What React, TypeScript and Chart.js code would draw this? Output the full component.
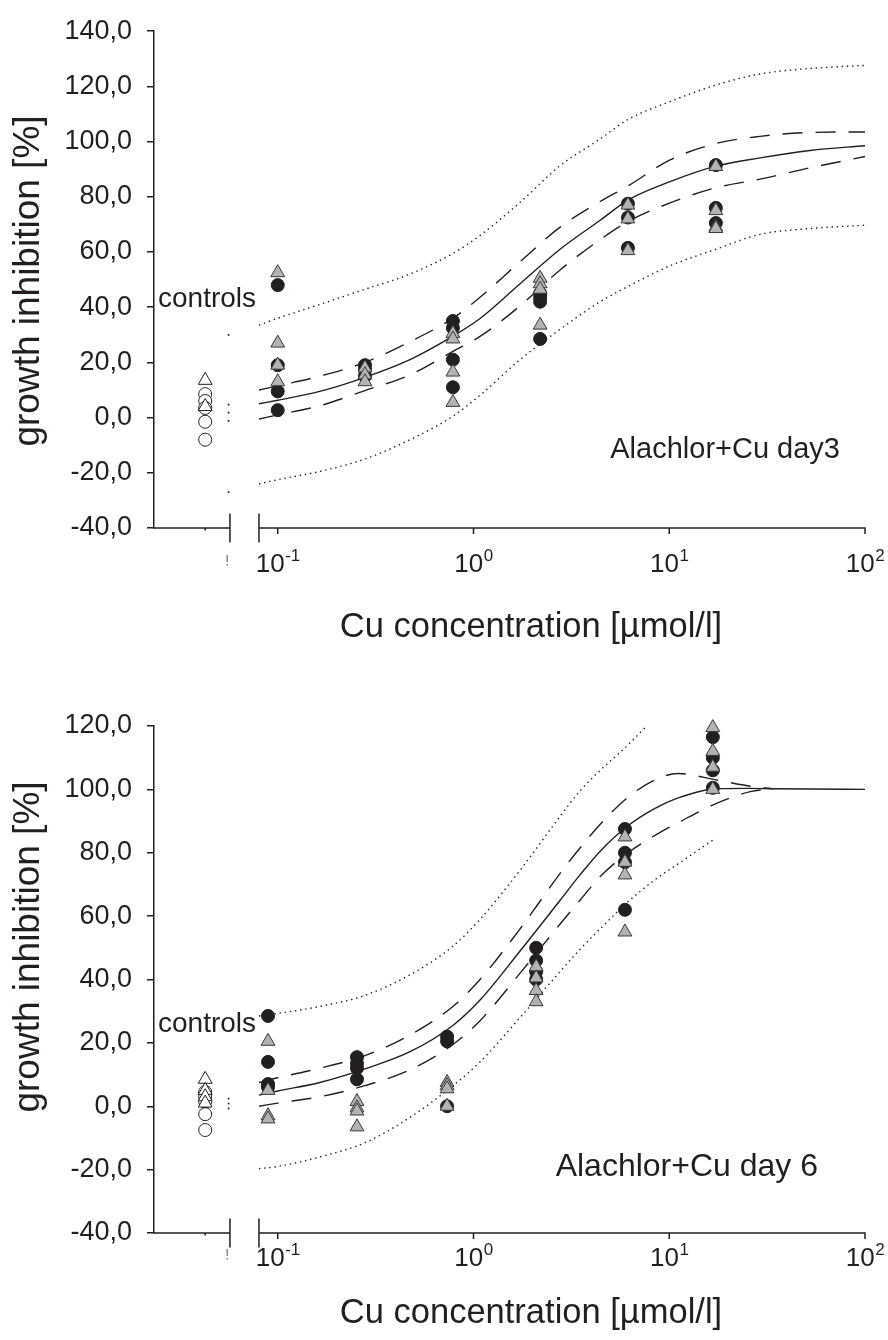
import React, { useEffect, useRef } from 'react';
import { Chart, registerables } from 'chart.js';

Chart.register(...registerables);

const FONT = "'Liberation Sans', Arial, Helvetica, sans-serif";
const INK = '#231f20';
const GRAY = '#b3b3b3';

// ---------- shared x axis (log scale with a broken "controls" section) ----------
const X_MIN = 0.02333;
const X_MAX = 100;
const X_DECADES = [-1, 0, 1, 2];
const CONTROL_X = 0.0426;
const STUB_X = 0.0561;
const BREAK_LEFT_X = 0.057;
const BREAK_RIGHT_X = 0.0802;
const X_TITLE = 'Cu concentration [µmol/l]';
const Y_TITLE = 'growth inhibition [%]';

// ---------- day 3 ----------
const DAY3_CTRL_OPEN_CIRCLES = [8.5, 6, 3.5, -1.5, -8];
const DAY3_CTRL_OPEN_TRIANGLES = [13.5, 4];
const DAY3_DOSES = [0.1, 0.279, 0.785, 2.19, 6.15, 17.3];
const DAY3_FILLED_CIRCLES = [
  [48, 19, 9.5, 2.7],
  [19, 17.5, 15],
  [35, 32.5, 21, 11],
  [45, 43.5, 42, 28.5],
  [77.5, 72.5, 61.5],
  [91.5, 76, 70.5],
];
const DAY3_GRAY_TRIANGLES = [
  [52.5, 27, 19, 13],
  [18, 15.5, 13],
  [30.5, 28.5, 16.5, 5.5],
  [50.5, 48.5, 46.5, 33.5],
  [77, 72, 60.5],
  [91, 75, 69, 68.5],
];
const DAY3_CURVE_X = [0.0802, 0.1, 0.164, 0.279, 0.474, 0.785, 1.08, 1.73, 2.77, 4.44, 6.15, 10.1, 17.3, 29.1, 52.4, 100];
const DAY3_FIT = [5, 6.3, 9.5, 14.6, 21, 29.5, 35.9, 48.5, 61, 71.5, 78.8, 85.5, 91.1, 94.1, 96.8, 98.5];
const DAY3_CI_UPPER = [10, 11.5, 15, 20, 27.5, 36, 43.6, 56.5, 69, 78.3, 83.9, 93.4, 99.3, 101.9, 103.3, 103.5];
const DAY3_CI_LOWER = [-0.5, 1, 4.3, 9.8, 15.5, 24, 29.4, 40.5, 53.5, 64.5, 71, 77.8, 83.3, 86.4, 90.5, 94.6];
const DAY3_PI_UPPER = [33.5, 36, 41, 46.5, 52, 59.5, 66, 78, 91.3, 101, 108, 114.5, 120.5, 124.5, 126.5, 127.6];
const DAY3_PI_LOWER = [-24, -22.5, -19.5, -15, -8, 0.5, 8.1, 21, 32, 42, 47.5, 55, 61, 66.4, 68.5, 69.7];
const DAY3_STUBS = [30, 4.7, 1.8, -1.2, -27];

// ---------- day 6 ----------
const DAY6_CTRL_OPEN_CIRCLES = [4.5, 3, 1.5, -2.5, -7.5];
const DAY6_CTRL_OPEN_TRIANGLES = [8.5, 5, 3, 1];
const DAY6_DOSES = [0.0892, 0.254, 0.733, 2.09, 5.94, 16.7];
const DAY6_FILLED_CIRCLES = [
  [28.5, 14, 7, 6],
  [15.5, 13.5, 12, 8.5],
  [22, 20.5, 0],
  [50, 46, 42.5, 40],
  [87.5, 80, 77, 62],
  [116.5, 110, 106, 100.5],
];
const DAY6_GRAY_TRIANGLES = [
  [20.5, 5, -3, -4],
  [1.5, -0.5, -1.5, -6.5],
  [7.5, 6.5, 5.5, 0],
  [44, 40.5, 36.5, 33],
  [85, 77, 73, 55],
  [119.5, 112, 107, 100],
];
const DAY6_CURVE_X = [0.0802, 0.1, 0.164, 0.279, 0.474, 0.785, 1.08, 1.73, 2.77, 3.5, 4.44, 6.15, 8.46, 11.1, 17.3, 25.9, 33.9, 52.4, 100];
const DAY6_FIT = [3.5, 4.8, 7.5, 11.8, 17.2, 25.5, 33.5, 49, 65, 73, 80.5, 88.5, 94, 97.3, 100.2, 100.3, 100.2, 100.1, 100];
const DAY6_CI_X = [0.0802, 0.1, 0.164, 0.279, 0.474, 0.785, 1.08, 1.73, 2.77, 3.5, 4.44, 6.15, 8.46, 11.1, 17.3, 25.9, 33.9];
const DAY6_CI_UPPER = [7.5, 9, 12, 16, 22.5, 31.5, 40, 56, 73.5, 81.5, 89, 97.5, 103, 105, 103, 101, 100.2];
const DAY6_CI_LOWER = [0, 1, 3, 6.5, 11.5, 19.5, 27, 42, 57.5, 65, 72.5, 80, 85.5, 89.5, 95.5, 99.3, 100.2];
const DAY6_PI_UPPER_X = [0.0802, 0.1, 0.164, 0.279, 0.474, 0.785, 1.08, 1.73, 2.77, 3.5, 4.44, 6.15, 7.52];
const DAY6_PI_UPPER = [28.5, 29.3, 31.5, 35, 41.5, 50.5, 59, 74.5, 91.5, 99.5, 106, 114, 119.5];
const DAY6_PI_LOWER_X = [0.0802, 0.1, 0.164, 0.279, 0.474, 0.785, 1.08, 1.73, 2.77, 3.5, 4.44, 6.15, 8.46, 11.1, 16.7];
const DAY6_PI_LOWER = [-19.7, -19, -16, -11.5, -3.5, 6.5, 14, 28, 42.5, 49.5, 56, 64.5, 71.5, 76.5, 84];
const DAY6_STUBS = [2.4, 0.85, -0.7];

type Spec = {
  yMax: number;
  padTop: number;
  xAxisH: number;
  doses: number[];
  circles: number[][];
  triangles: number[][];
  ctrlCircles: number[];
  ctrlTriangles: number[];
  stubs: number[];
  fitX: number[];
  fit: number[];
  ciX: number[];
  ciUp: number[];
  ciLo: number[];
  piUpX: number[];
  piUp: number[];
  piLoX: number[];
  piLo: number[];
  label: string;
  labelFont: number;
  labelRight: number;
  labelBase: number;
  ctrlFont: number;
  ctrlBase: number;
  tickLabelBase: number;
  titleCy: number;
  yTitleCy: number;
};

const DAY3: Spec = {
  yMax: 140, padTop: 19, xAxisH: 142,
  doses: DAY3_DOSES, circles: DAY3_FILLED_CIRCLES, triangles: DAY3_GRAY_TRIANGLES,
  ctrlCircles: DAY3_CTRL_OPEN_CIRCLES, ctrlTriangles: DAY3_CTRL_OPEN_TRIANGLES, stubs: DAY3_STUBS,
  fitX: DAY3_CURVE_X, fit: DAY3_FIT, ciX: DAY3_CURVE_X, ciUp: DAY3_CI_UPPER, ciLo: DAY3_CI_LOWER,
  piUpX: DAY3_CURVE_X, piUp: DAY3_PI_UPPER, piLoX: DAY3_CURVE_X, piLo: DAY3_PI_LOWER,
  label: 'Alachlor+Cu day3', labelFont: 29, labelRight: 840, labelBase: 458,
  ctrlFont: 28, ctrlBase: 307, tickLabelBase: 44, titleCy: 99, yTitleCy: 281,
};

const DAY6: Spec = {
  yMax: 120, padTop: 56, xAxisH: 107,
  doses: DAY6_DOSES, circles: DAY6_FILLED_CIRCLES, triangles: DAY6_GRAY_TRIANGLES,
  ctrlCircles: DAY6_CTRL_OPEN_CIRCLES, ctrlTriangles: DAY6_CTRL_OPEN_TRIANGLES, stubs: DAY6_STUBS,
  fitX: DAY6_CURVE_X, fit: DAY6_FIT, ciX: DAY6_CI_X, ciUp: DAY6_CI_UPPER, ciLo: DAY6_CI_LOWER,
  piUpX: DAY6_PI_UPPER_X, piUp: DAY6_PI_UPPER, piLoX: DAY6_PI_LOWER_X, piLo: DAY6_PI_LOWER,
  label: 'Alachlor+Cu day 6', labelFont: 32, labelRight: 818, labelBase: 506,
  ctrlFont: 28, ctrlBase: 362, tickLabelBase: 33, titleCy: 80, yTitleCy: 277,
};

function overlayPlugin(p: Spec) {
  return {
    id: 'overlay',
    afterDraw(chart: any) {
      const { ctx, chartArea: a } = chart;
      const x = chart.scales.x;
      const y0 = a.bottom;
      ctx.save();
      ctx.strokeStyle = INK;
      ctx.lineWidth = 1.5;
      const bl = x.getPixelForValue(BREAK_LEFT_X);
      const br = x.getPixelForValue(BREAK_RIGHT_X);
      ctx.beginPath();
      ctx.moveTo(a.left - 0.75, y0);
      ctx.lineTo(bl, y0);
      ctx.moveTo(br, y0);
      ctx.lineTo(a.right + 0.75, y0);
      ctx.moveTo(bl, y0 - 14.5);
      ctx.lineTo(bl, y0 + 14.5);
      ctx.moveTo(br, y0 - 14.5);
      ctx.lineTo(br, y0 + 14.5);
      X_DECADES.forEach((k) => {
        const px = x.getPixelForValue(Math.pow(10, k));
        ctx.moveTo(px, y0);
        ctx.lineTo(px, y0 + 6);
      });
      const cx = x.getPixelForValue(CONTROL_X);
      ctx.moveTo(cx, y0);
      ctx.lineTo(cx, y0 + 2.5);
      ctx.stroke();

      // clipped label fragment in the controls section
      ctx.fillStyle = '#8a8a8a';
      ctx.fillRect(bl - 3.5, y0 + p.tickLabelBase - 17, 1.5, 7);
      ctx.fillRect(bl - 3.5, y0 + p.tickLabelBase - 8, 1.5, 1.5);

      ctx.fillStyle = INK;
      ctx.textBaseline = 'alphabetic';
      ctx.textAlign = 'left';
      X_DECADES.forEach((k) => {
        const px = x.getPixelForValue(Math.pow(10, k));
        ctx.font = `26px ${FONT}`;
        const w1 = ctx.measureText('10').width;
        ctx.font = `17px ${FONT}`;
        const sup = String(k);
        const w2 = ctx.measureText(sup).width;
        const start = px - (w1 + w2) / 2;
        ctx.font = `26px ${FONT}`;
        ctx.fillText('10', start, y0 + p.tickLabelBase);
        ctx.font = `17px ${FONT}`;
        ctx.fillText(sup, start + w1 + 0.5, y0 + p.tickLabelBase - 11);
      });

      ctx.font = `34.5px ${FONT}`;
      ctx.textAlign = 'center';
      ctx.textBaseline = 'middle';
      ctx.fillText(X_TITLE, 531, y0 + p.titleCy);

      ctx.save();
      ctx.translate(29, p.yTitleCy);
      ctx.rotate(-Math.PI / 2);
      ctx.font = `37px ${FONT}`;
      ctx.fillText(Y_TITLE, 0, 0);
      ctx.restore();

      ctx.textBaseline = 'alphabetic';
      ctx.textAlign = 'left';
      ctx.font = `${p.ctrlFont}px ${FONT}`;
      ctx.fillText('controls', 158, p.ctrlBase);
      ctx.textAlign = 'right';
      ctx.font = `${p.labelFont}px ${FONT}`;
      ctx.fillText(p.label, p.labelRight, p.labelBase);
      ctx.restore();
    },
  };
}

function buildConfig(p: Spec): any {
  const markers = (doses: number[], rows: number[][]) =>
    doses.flatMap((d, i) => rows[i].map((v) => ({ x: d, y: v })));
  const column = (xv: number, ys: number[]) => ys.map((y) => ({ x: xv, y }));
  const curve = (xs: number[], ys: number[]) => xs.map((xv, i) => ({ x: xv, y: ys[i] }));
  const lineDs = (data: any[], dash: number[], width: number) => ({
    type: 'line',
    data,
    borderColor: INK,
    borderWidth: width,
    borderDash: dash,
    pointRadius: 0,
    fill: false,
    cubicInterpolationMode: 'monotone',
    order: 2,
  });
  return {
    type: 'scatter',
    data: {
      datasets: [
        { data: markers(p.doses, p.triangles), pointStyle: 'triangle', pointRadius: 8, backgroundColor: GRAY, borderColor: '#3a3a3a', borderWidth: 1, order: 0, clip: false },
        { data: column(CONTROL_X, p.ctrlTriangles), pointStyle: 'triangle', pointRadius: 8, backgroundColor: '#ffffff', borderColor: INK, borderWidth: 1, order: 0, clip: false },
        { data: markers(p.doses, p.circles), pointStyle: 'circle', pointRadius: 6.5, backgroundColor: INK, borderColor: INK, borderWidth: 1, order: 1, clip: false },
        { data: column(CONTROL_X, p.ctrlCircles), pointStyle: 'circle', pointRadius: 6.5, backgroundColor: '#ffffff', borderColor: INK, borderWidth: 1, order: 1, clip: false },
        lineDs(curve(p.fitX, p.fit), [], 1.4),
        lineDs(curve(p.ciX, p.ciUp), [20, 13], 1.4),
        lineDs(curve(p.ciX, p.ciLo), [20, 13], 1.4),
        lineDs(curve(p.piUpX, p.piUp), [1.4, 3.8], 1.4),
        lineDs(curve(p.piLoX, p.piLo), [1.4, 3.8], 1.4),
        { data: column(STUB_X, p.stubs), pointStyle: 'rect', pointRadius: 1.2, backgroundColor: INK, borderColor: INK, borderWidth: 0, order: 3 },
      ],
    },
    options: {
      responsive: false,
      animation: false,
      events: [],
      layout: { padding: { top: p.padTop, right: 23, bottom: 0, left: 0 } },
      plugins: { legend: { display: false }, tooltip: { enabled: false } },
      scales: {
        x: {
          type: 'logarithmic',
          min: X_MIN,
          max: X_MAX,
          bounds: 'data',
          ticks: { display: false },
          grid: { display: false },
          border: { display: false },
          afterFit: (s: any) => { s.height = p.xAxisH; },
        },
        y: {
          type: 'linear',
          min: -40,
          max: p.yMax,
          ticks: {
            stepSize: 20,
            color: INK,
            padding: 15,
            font: { family: FONT, size: 27 },
            callback: (v: any) => Number(v).toFixed(1).replace('.', ','),
          },
          grid: { drawOnChartArea: false, drawTicks: true, tickLength: 7, color: INK, lineWidth: 1.5 },
          border: { display: true, color: INK, width: 1.5 },
          title: { display: false },
          afterFit: (s: any) => { s.width = 154; },
        },
      },
    },
    plugins: [overlayPlugin(p)],
  };
}

function Panel({ spec, top }: { spec: Spec; top: number }) {
  const ref = useRef<HTMLCanvasElement>(null);
  useEffect(() => {
    const chart = new Chart(ref.current as HTMLCanvasElement, buildConfig(spec));
    return () => chart.destroy();
  }, [spec]);
  return (
    <canvas
      ref={ref}
      width={888}
      height={670}
      style={{ position: 'absolute', left: 0, top, width: 888, height: 670, display: 'block' }}
    />
  );
}

export default function App() {
  return (
    <div style={{ position: 'absolute', left: 0, top: 0, width: 888, height: 1340, background: '#ffffff' }}>
      <Panel spec={DAY3} top={0} />
      <Panel spec={DAY6} top={670} />
    </div>
  );
}
